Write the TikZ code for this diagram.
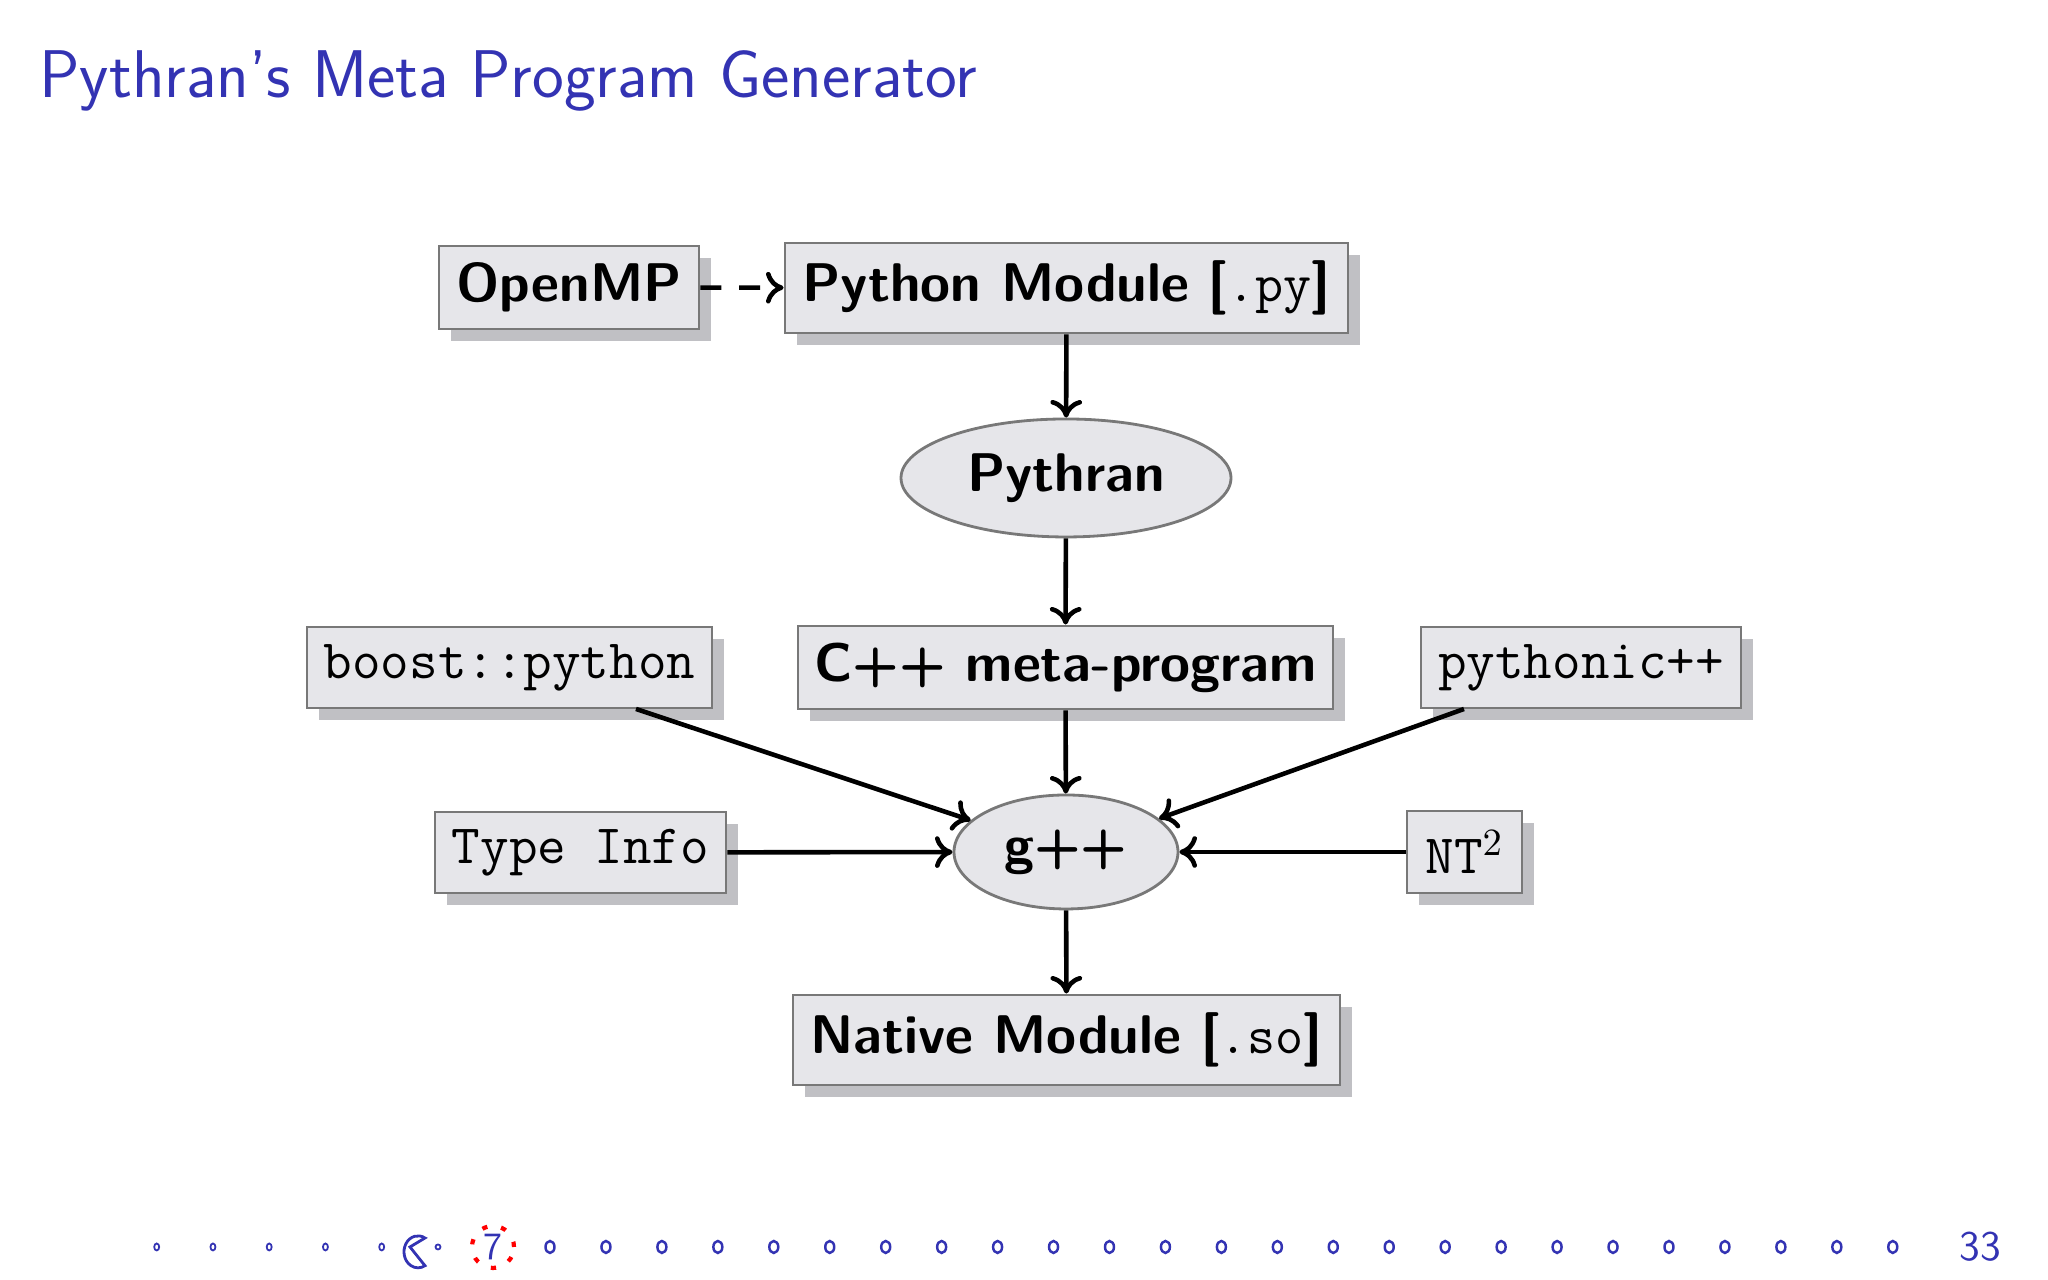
\documentclass[tikz,border=0pt]{standalone}
\usetikzlibrary{shapes.geometric,shadows,arrows.meta}
\definecolor{beamblue}{RGB}{51,51,179}
\definecolor{boxfill}{RGB}{230,230,234}
\definecolor{boxline}{RGB}{120,120,120}
\definecolor{shad}{RGB}{192,192,196}
\tikzset{
  box/.style={draw=boxline, fill=boxfill, line width=0.8pt, inner sep=0pt,
    drop shadow={shadow xshift=0.12cm, shadow yshift=-0.12cm, fill=shad, opacity=1}},
  ell/.style={ellipse, draw=boxline, fill=boxfill, line width=0.8pt, inner sep=0pt},
  bsf/.style={font=\fontsize{15.5}{19}\selectfont\sffamily\bfseries},
  tt/.style={font=\fontsize{15.8}{19}\selectfont\ttfamily},
  arr/.style={line width=1.3pt, -{To[length=5pt,width=9pt]}},
  nav/.style={draw=beamblue, line width=0.5pt}
}
\begin{document}
\begin{tikzpicture}
\useasboundingbox (0,0) rectangle (20.48,12.8);
\node[anchor=base west, text=beamblue, font=\fontsize{19.2}{23}\selectfont\sffamily] (title) at (0.27,11.82) {Pythran’s Meta Program Generator};

\node[box,bsf,minimum width=2.60cm,minimum height=0.83cm] (omp) at (5.69,9.925) {OpenMP};
\node[box,bsf,minimum width=5.63cm,minimum height=0.90cm] (pym) at (10.665,9.92) {Python Module [{\mdseries\ttfamily.py}]};
\node[ell,bsf,minimum width=3.30cm,minimum height=1.18cm] (pythran) at (10.66,8.02) {Pythran};
\node[box,bsf,minimum width=5.35cm,minimum height=0.83cm] (cpp) at (10.655,6.125) {C++ meta-program};
\node[box,tt,minimum width=4.05cm,minimum height=0.81cm] (boost) at (5.095,6.125) {boost::python};
\node[box,tt,minimum width=3.20cm,minimum height=0.81cm] (pyt) at (15.81,6.125) {pythonic++};
\node[ell,bsf,minimum width=2.24cm,minimum height=1.14cm] (gpp) at (10.66,4.28) {g++};
\node[box,tt,minimum width=2.91cm,minimum height=0.81cm] (ti) at (5.805,4.275) {Type Info};
\node[box,tt,minimum width=1.15cm,minimum height=0.82cm] (nt) at (14.645,4.28) {NT$^{\mathrm{2}}$};
\node[box,bsf,minimum width=5.47cm,minimum height=0.90cm] (nat) at (10.665,2.40) {Native Module [{\mdseries\ttfamily.so}]};

\coordinate (bs) at (6.36,5.71);
\coordinate (ps) at (14.64,5.71);
\draw[arr,dash pattern=on 6pt off 5pt] (omp) -- (pym);
\draw[arr] (pym) -- (pythran);
\draw[arr] (pythran) -- (cpp);
\draw[arr] (cpp) -- (gpp);
\draw[arr] (bs) -- (gpp);
\draw[arr] (ps) -- (gpp);
\draw[arr] (ti) -- (gpp);
\draw[arr] (nt) -- (gpp);
\draw[arr] (gpp) -- (nat);

% navigation
\foreach \i in {0,...,4} \draw[nav] (1.567+\i*0.5625,0.33) ellipse (0.025 and 0.035);
\draw[nav,line width=0.8pt] (4.25,0.42) arc (60:300:0.14 and 0.16) -- (4.10,0.33) -- cycle;
\draw[nav] (4.38,0.33) circle (0.025);
\draw[red,line width=1.2pt,dash pattern=on 1.5pt off 4pt] (4.93,0.33) circle (0.21);
\node[text=beamblue,font=\fontsize{11}{13}\selectfont\sffamily] (seven) at (4.93,0.33) {7};
\foreach \i in {0,...,24} \draw[nav,line width=0.7pt] (5.50+\i*0.5595,0.33) ellipse (0.045 and 0.06);
\node[text=beamblue,font=\fontsize{12}{14}\selectfont\sffamily] (pg) at (19.80,0.33) {33};
\end{tikzpicture}
\end{document}
